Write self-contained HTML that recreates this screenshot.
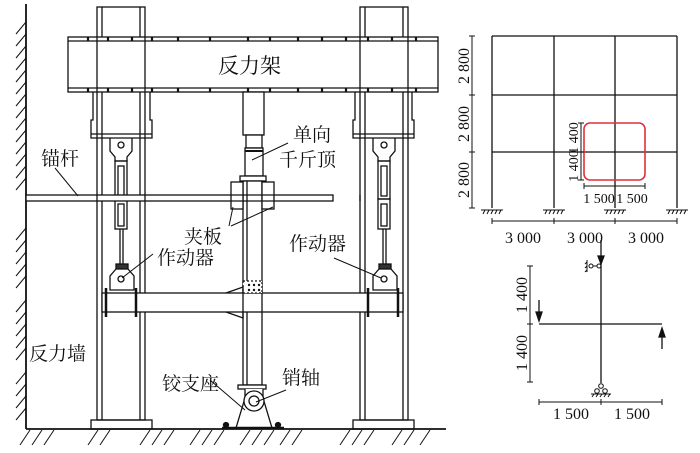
<!DOCTYPE html>
<html><head><meta charset="utf-8"><style>
html,body{margin:0;padding:0;background:#fff;}
svg{display:block;}
text{font-family:"Liberation Serif","Noto Serif CJK SC",serif;fill:#111;}
.cj{font-family:"Liberation Sans","Noto Sans CJK SC",sans-serif;}
</style></head><body>
<svg width="700" height="453" viewBox="0 0 700 453" xmlns="http://www.w3.org/2000/svg">
<g stroke="#111" fill="none" stroke-width="1.3">
<line x1="26" y1="4" x2="26" y2="429" stroke-width="1.8"/>
<g stroke-width="1">
<path d="M26 22 l-10 12 M26 34 l-10 12 M26 46 l-10 12 M26 58 l-10 12 M26 70 l-10 12 M26 82 l-10 12 M26 94 l-10 12 M26 106 l-10 12 M26 118 l-10 12 M26 130 l-10 12 M26 142 l-10 12 M26 154 l-10 12 M26 166 l-10 12 M26 178 l-10 12 M26 228 l-10 12 M26 240 l-10 12 M26 252 l-10 12 M26 264 l-10 12 M26 276 l-10 12 M26 300 l-10 12 M26 312 l-10 12 M26 324 l-10 12 M26 336 l-10 12 M26 348 l-10 12 M26 372 l-10 12 M26 384 l-10 12 M26 396 l-10 12 M26 408 l-10 12"/>
</g>
<line x1="26" y1="429" x2="446" y2="429" stroke-width="1.8"/>
<path stroke-width="1" d="M20 445 l10 -15 M32 445 l10 -15 M44 445 l10 -15 M88 445 l10 -15 M100 445 l10 -15 M140 445 l10 -15 M152 445 l10 -15 M164 445 l10 -15 M190 445 l10 -15 M202 445 l10 -15 M214 445 l10 -15 M240 445 l10 -15 M252 445 l10 -15 M264 445 l10 -15 M280 445 l10 -15 M292 445 l10 -15 M340 445 l10 -15 M352 445 l10 -15 M364 445 l10 -15 M392 445 l10 -15 M404 445 l10 -15 M420 445 l10 -15"/>
<rect x="97" y="7" width="48" height="413"/>
<line x1="102" y1="7" x2="102" y2="420"/><line x1="140" y1="7" x2="140" y2="420"/>
<rect x="91" y="420" width="61" height="9"/>
<rect x="360" y="7" width="48" height="413"/>
<line x1="365" y1="7" x2="365" y2="420"/><line x1="403" y1="7" x2="403" y2="420"/>
<rect x="353" y="420" width="61" height="9"/>
<rect x="68" y="37" width="370" height="55" fill="#fff"/>
<line x1="68" y1="41" x2="438" y2="41"/><line x1="68" y1="88" x2="438" y2="88"/>
<g stroke-width="2.2"><path d="M88 37v4M108 37v4M132 37v4M152 37v4M178 37v4M210 37v4M248 37v4M270 37v4M298 37v4M322 37v4M346 37v4M368 37v4M392 37v4M416 37v4M88 88v4M108 88v4M132 88v4M152 88v4M178 88v4M210 88v4M248 88v4M270 88v4M298 88v4M322 88v4M346 88v4M368 88v4M392 88v4M416 88v4"/></g>
<line x1="97" y1="37" x2="97" y2="92"/><line x1="145" y1="37" x2="145" y2="92"/>
<line x1="360" y1="37" x2="360" y2="92"/><line x1="408" y1="37" x2="408" y2="92"/>
<path d="M93 92 v28 h-2 v18 h61 v-18 h-2 v-28"/><line x1="91" y1="134" x2="152" y2="134"/>
<path d="M355 92 v28 h-2 v18 h61 v-18 h-2 v-28"/><line x1="353" y1="134" x2="414" y2="134"/>
<g id="act">
<path d="M110 138 v13 l5 6 v4 h12 v-4 l5 -6 v-13"/><circle cx="121" cy="145" r="3"/>
<rect x="115" y="161" width="12" height="38"/><rect x="118" y="166" width="6" height="30"/>
<rect x="115" y="199" width="12" height="30"/><rect x="118" y="204" width="6" height="22"/>
<line x1="120" y1="229" x2="120" y2="264"/><line x1="123" y1="229" x2="123" y2="264"/>
<rect x="116" y="264" width="12" height="5" fill="#333"/>
<path d="M116 269 l-6 7 v14 h24 v-14 l-6 -7"/><circle cx="121" cy="279" r="3"/>
</g>
<use href="#act" x="263"/>
<rect x="26" y="195" width="307" height="6" fill="#fff"/>
<line x1="97" y1="195" x2="97" y2="201"/><line x1="145" y1="195" x2="145" y2="201"/>
<line x1="360" y1="195" x2="360" y2="201"/>
<rect x="243" y="92" width="21" height="43" fill="#fff"/>
<rect x="246" y="135" width="16" height="13" fill="#fff"/>
<rect x="245" y="148" width="18" height="28" fill="#fff"/>
<line x1="245" y1="151" x2="263" y2="151" stroke-width="2"/>
<rect x="240" y="176" width="26" height="5" fill="#fff"/>
<rect x="243" y="181" width="19" height="204" fill="#fff"/>
<line x1="247" y1="181" x2="247" y2="385"/>
<rect x="231" y="182" width="12" height="27" fill="#fff"/><rect x="262" y="182" width="12" height="27" fill="#fff"/>
<line x1="231" y1="195" x2="274" y2="195"/><line x1="231" y1="201" x2="274" y2="201"/>
<rect x="102" y="293" width="301" height="19" fill="#fff"/>
<rect x="243" y="281" width="19" height="12" fill="#fff" stroke-dasharray="2 2"/>
<g fill="#111" stroke="none"><circle cx="249" cy="285" r="1.2"/><circle cx="254" cy="285" r="1.2"/><circle cx="259" cy="285" r="1.2"/><circle cx="249" cy="290" r="1.2"/><circle cx="254" cy="290" r="1.2"/><circle cx="259" cy="290" r="1.2"/></g>
<line x1="243" y1="293" x2="243" y2="312"/><line x1="262" y1="293" x2="262" y2="312"/>
<path d="M226 293 l17 -6 v6 M226 312 l17 6 v-6"/>
<g stroke-width="2.5"><line x1="106" y1="288" x2="106" y2="317"/><line x1="136" y1="288" x2="136" y2="317"/><line x1="368" y1="288" x2="368" y2="317"/><line x1="398" y1="288" x2="398" y2="317"/></g>
<rect x="238" y="385" width="28" height="4" fill="#fff"/>
<path d="M245 389 v9 l-9 30 h36 l-9 -30 v-9" fill="#fff"/>
<circle cx="254" cy="401" r="10" fill="#fff"/><circle cx="254" cy="401" r="5"/>
<line x1="222" y1="428" x2="284" y2="428" stroke-width="2.5"/>
<circle cx="226" cy="425" r="2.5" fill="#111"/><circle cx="278" cy="425" r="2.5" fill="#111"/>
<g stroke-width="1">
<line x1="55" y1="168" x2="78" y2="196"/>
<line x1="252" y1="160" x2="288" y2="143"/>
<line x1="233" y1="207" x2="229" y2="226"/><line x1="273" y1="207" x2="231" y2="226"/>
<line x1="122" y1="278" x2="153" y2="254"/>
<line x1="334" y1="258" x2="381" y2="278"/>
<line x1="210" y1="380" x2="245" y2="410"/>
<line x1="286" y1="390" x2="256" y2="402"/>
</g>
</g>
<g class="cj" font-size="19">
<text x="218" y="73" font-size="21">反力架</text>
<text x="293" y="141">单向</text><text x="279" y="166">千斤顶</text>
<text x="41" y="165">锚杆</text>
<text x="184" y="243">夹板</text>
<text x="157" y="264">作动器</text>
<text x="289" y="250">作动器</text>
<text x="29" y="360">反力墙</text>
<text x="162" y="390">铰支座</text>
<text x="282" y="384">销轴</text>
</g>
<g stroke="#111" fill="none" stroke-width="1.3">
<path d="M492 36H677M492 95H677M492 152H677M492 36V208M554 36V208M615 36V208M677 36V208"/>
<rect x="584" y="123" width="61" height="57" rx="6" stroke="#e0303a" stroke-width="1.6"/>
<g stroke-width="1">
<line x1="472" y1="36" x2="472" y2="208"/>
<path d="M469 36h6M469 95h6M469 152h6M469 208h6"/>
<line x1="492" y1="221" x2="677" y2="221"/>
<path d="M492 218v6M554 218v6M615 218v6M677 218v6"/>
<line x1="581" y1="123" x2="581" y2="180"/><path d="M578 123h6M578 152h6M578 180h6"/>
<line x1="584" y1="186" x2="645" y2="186"/><path d="M584 183v6M615 183v6M645 183v6"/>
<path d="M481 210h22M543 210h22M604 210h22M666 210h22"/>
<path d="M483 214l2-4M487 214l2-4M491 214l2-4M495 214l2-4M499 214l2-4M545 214l2-4M549 214l2-4M553 214l2-4M557 214l2-4M561 214l2-4M606 214l2-4M610 214l2-4M614 214l2-4M618 214l2-4M622 214l2-4M668 214l2-4M672 214l2-4M676 214l2-4M680 214l2-4M684 214l2-4"/>
</g>
</g>
<g font-size="16">
<text transform="translate(469 66) rotate(-90)" text-anchor="middle">2 800</text>
<text transform="translate(469 124) rotate(-90)" text-anchor="middle">2 800</text>
<text transform="translate(469 180) rotate(-90)" text-anchor="middle">2 800</text>
<text transform="translate(578 138) rotate(-90)" text-anchor="middle" font-size="14">1 400</text>
<text transform="translate(578 166) rotate(-90)" text-anchor="middle" font-size="14">1 400</text>
<text x="599" y="203" text-anchor="middle" font-size="14">1 500</text>
<text x="632" y="203" text-anchor="middle" font-size="14">1 500</text>
<text x="523" y="243" text-anchor="middle">3 000</text>
<text x="585" y="243" text-anchor="middle">3 000</text>
<text x="646" y="243" text-anchor="middle">3 000</text>
</g>
<g stroke="#111" fill="none" stroke-width="1.3">
<line x1="601" y1="240" x2="601" y2="383"/>
<line x1="539" y1="324" x2="662" y2="324"/>
<path d="M598 256l3 8 3-8z" fill="#111"/>
<path d="M536 312l3 9 3-9z" fill="#111"/><line x1="539" y1="300" x2="539" y2="312"/>
<path d="M659 337l3-9 3 9z" fill="#111"/><line x1="662" y1="337" x2="662" y2="349"/>
<g stroke-width="1">
<circle cx="599" cy="266" r="2"/><circle cx="591" cy="266" r="2"/><line x1="593" y1="266" x2="597" y2="266"/>
<line x1="587" y1="260" x2="587" y2="272"/><path d="M587 262l-2 2M587 266l-2 2M587 270l-2 2"/>
<circle cx="601" cy="386" r="2.3"/><circle cx="597" cy="391" r="2.3"/><circle cx="605" cy="391" r="2.3"/>
<line x1="591" y1="394" x2="611" y2="394"/><path d="M592 397l2-3M596 397l2-3M600 397l2-3M604 397l2-3M608 397l2-3"/>
<line x1="530" y1="266" x2="530" y2="382"/><path d="M527 266h6M527 324h6M527 382h6"/>
<line x1="539" y1="402" x2="662" y2="402"/><path d="M539 399v6M601 399v6M662 399v6"/>
</g>
</g>
<g font-size="16">
<text transform="translate(527 295) rotate(-90)" text-anchor="middle">1 400</text>
<text transform="translate(527 353) rotate(-90)" text-anchor="middle">1 400</text>
<text x="571" y="419" text-anchor="middle">1 500</text>
<text x="632" y="419" text-anchor="middle">1 500</text>
</g>
</svg>
</body></html>
